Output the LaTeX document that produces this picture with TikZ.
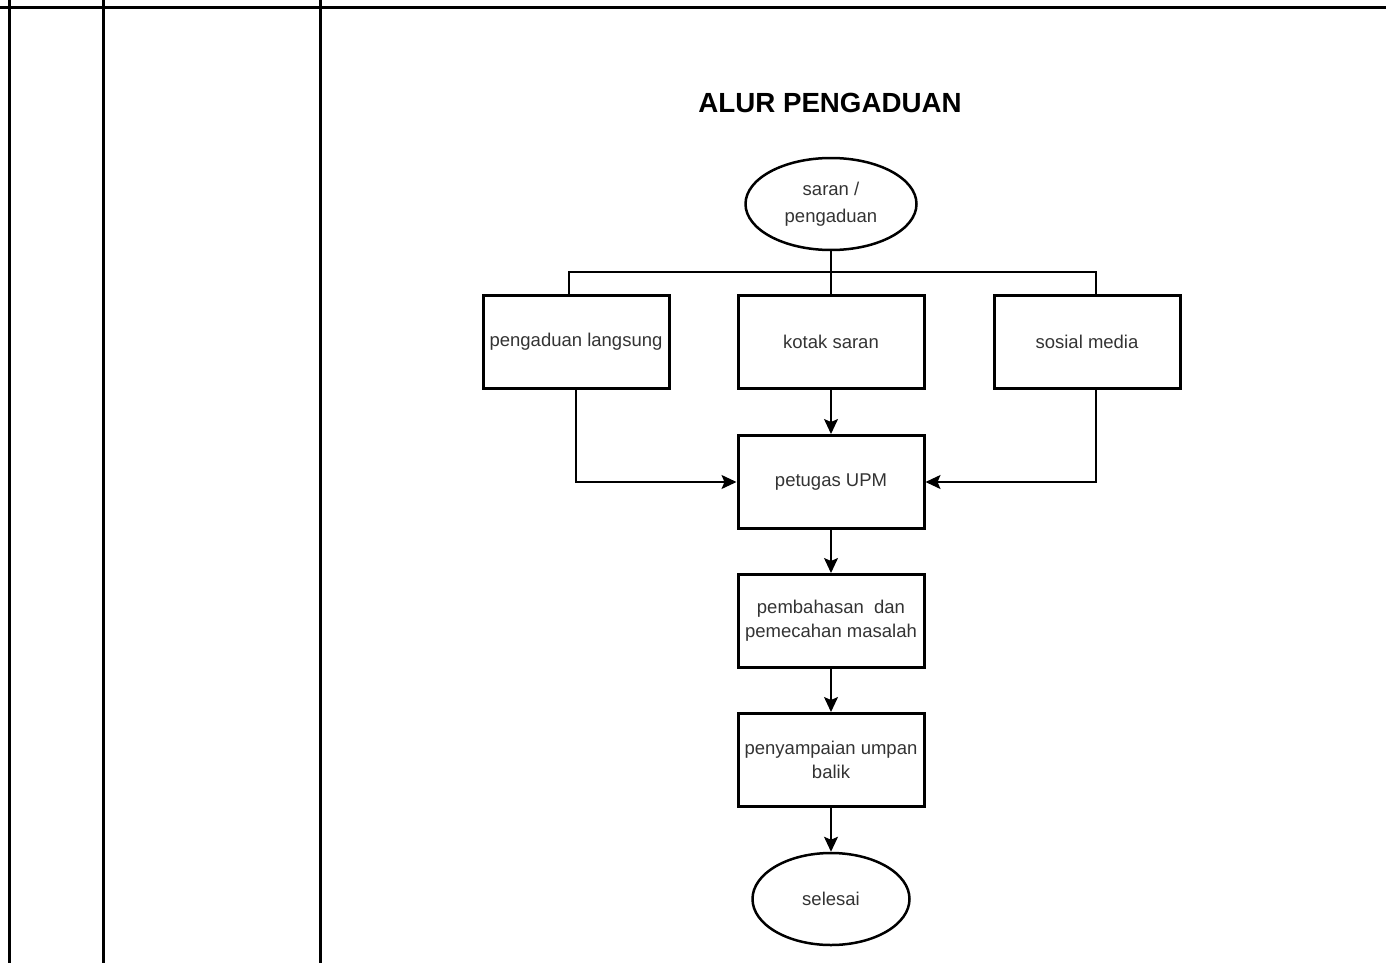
\documentclass[tikz,border=0pt]{standalone}
\usepackage{fontspec}
\setmainfont{Liberation Sans}
\usetikzlibrary{shapes.geometric, arrows.meta}
\tikzstyle{stepbox}=[rectangle, draw, line width=3pt, minimum width=186pt, minimum height=93pt, align=center, inner sep=2pt, font=\fontsize{18.5}{24}\selectfont, text=black!80]
\tikzstyle{terminal}=[ellipse, draw, line width=2.5pt, minimum height=92pt, align=center, inner sep=0pt, font=\fontsize{18.5}{27}\selectfont, text=black!80]
\tikzstyle{link}=[line width=1.5pt, -{Stealth[length=15pt, width=14pt, inset=3pt]}]
\tikzstyle{split}=[line width=2.5pt]

\begin{document}
\begin{tikzpicture}[x=1pt, y=-1pt]
\useasboundingbox (0,0) rectangle (1386,963);
% Table lines
    \draw[line width=3pt] (0,8) -- (1386,8);
    \draw[line width=3pt] (9,0) -- (9,963);
    \draw[line width=3pt] (103,0) -- (103,963);
    \draw[line width=3pt] (320,0) -- (320,963);
% Title
    \node[font=\fontsize{27.7}{30}\selectfont\bfseries] (title) at (830,103) {ALUR PENGADUAN};
% Nodes
    \node[terminal, minimum width=171pt] (start) at (831,204) {saran /\\pengaduan};
    \node[stepbox] (langsung) at (576,342) {pengaduan langsung};
    \node[stepbox] (kotak) at (831,342) {kotak saran};
    \node[stepbox] (sosial) at (1087,342) {sosial media};
    \node[stepbox] (petugas) at (831,482) {petugas UPM};
    \node[stepbox] (bahas) at (831,621) {pembahasan~ dan\\pemecahan masalah};
    \node[stepbox] (umpan) at (831,760) {penyampaian umpan\\balik};
    \node[terminal, minimum width=157pt] (selesai) at (831,899) {selesai};
% Branches
    \coordinate (fork) at (831,272);
    \draw[split] (start.south) -- (fork);
    \draw[split] ([xshift=-7pt]langsung.north) |- (fork) -| ([xshift=9pt]sosial.north);
    \draw[line width=1.5pt] (fork) -- (kotak.north);
% Flow
    \draw[link] (kotak) -- (petugas);
    \draw[link] (langsung.south) |- (petugas.west);
    \draw[link] ([xshift=9pt]sosial.south) |- (petugas.east);
    \draw[link] (petugas) -- (bahas);
    \draw[link] (bahas) -- (umpan);
    \draw[link] (umpan) -- (selesai);
\end{tikzpicture}
\end{document}
